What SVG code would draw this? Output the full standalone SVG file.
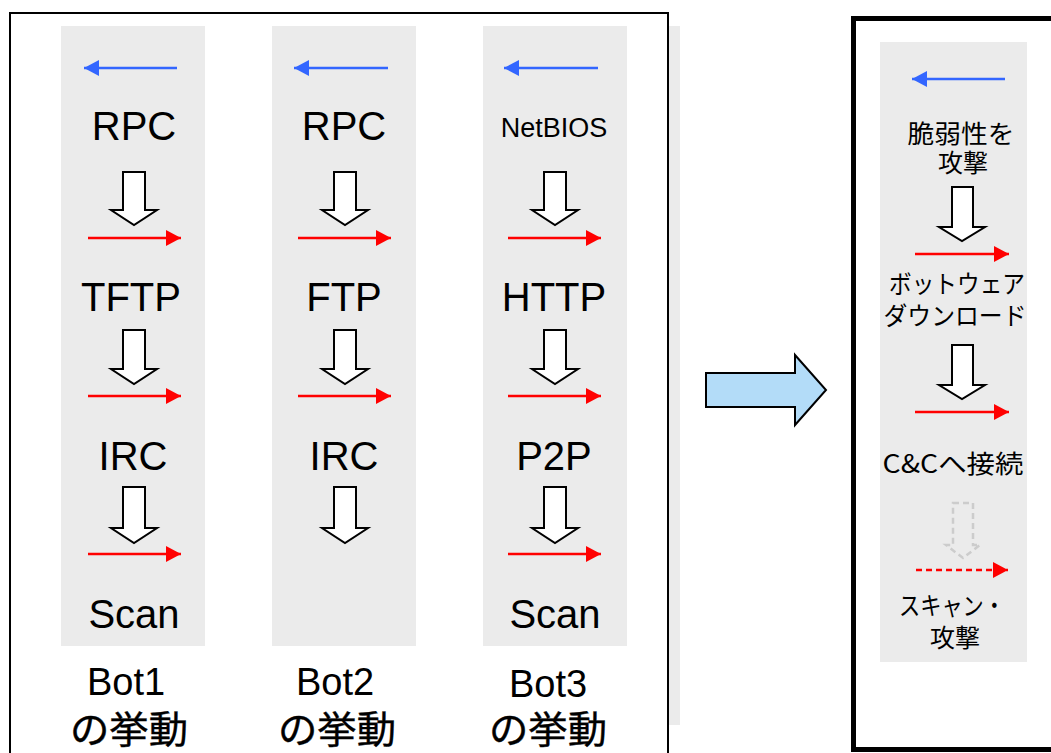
<svg xmlns="http://www.w3.org/2000/svg" width="1051" height="753" viewBox="0 0 1051 753">
<style>
.bg{fill:#ffffff}
.col{fill:#ebebeb}
.box{fill:none;stroke:#000;stroke-width:2}
.lbl{font-family:"Liberation Sans",Arial,sans-serif;font-size:40px;fill:#000;text-anchor:middle}
.jp{font-family:"Noto Sans CJK JP",sans-serif;font-size:38px;fill:#000;stroke:#000;stroke-width:0.4;text-anchor:middle}
.jps{font-family:"Noto Sans CJK JP",sans-serif;font-size:25px;fill:#000;text-anchor:middle}
.blue{stroke:#3366ff;stroke-width:2.5;fill:none}
.red{stroke:#ff0000;stroke-width:2.5;fill:none}
.hollow{fill:#fff;stroke:#000;stroke-width:2;stroke-linejoin:miter}
</style>
<defs>
<marker id="hb" viewBox="0 0 15 16" refX="15" refY="8" markerWidth="15" markerHeight="16" markerUnits="userSpaceOnUse" orient="auto"><path d="M0,0 L15,8 L0,16 z" fill="#3366ff"/></marker>
<marker id="hr" viewBox="0 0 15 16" refX="15" refY="8" markerWidth="15" markerHeight="16" markerUnits="userSpaceOnUse" orient="auto"><path d="M0,0 L15,8 L0,16 z" fill="#ff0000"/></marker>
</defs>
<rect class="bg" x="0" y="0" width="1051" height="753"/>

<g id="left-panel">
<rect class="col" x="668" y="26" width="12" height="699"/>
<rect class="box" x="10" y="13" width="658" height="760"/>
</g>

<g id="bot1">
<rect class="col" x="61" y="26" width="144" height="620"/>
<text class="lbl" x="134" y="140">RPC</text>
<text class="lbl" x="131" y="311">TFTP</text>
<text class="lbl" x="133" y="470">IRC</text>
<text class="lbl" x="134" y="628">Scan</text>
<text class="lbl" x="126" y="695" style="font-size:38px">Bot1</text>
<text class="jp" x="129" y="743" textLength="118" lengthAdjust="spacingAndGlyphs">の挙動</text>
</g>

<g id="bot2">
<rect class="col" x="272" y="26" width="144" height="620"/>
<text class="lbl" x="344" y="140">RPC</text>
<text class="lbl" x="344" y="311">FTP</text>
<text class="lbl" x="344" y="470">IRC</text>
<text class="lbl" x="335" y="695" style="font-size:38px">Bot2</text>
<text class="jp" x="337" y="743" textLength="118" lengthAdjust="spacingAndGlyphs">の挙動</text>
</g>

<g id="bot3">
<rect class="col" x="483" y="26" width="144" height="620"/>
<text class="lbl" x="554" y="137" style="font-size:27px">NetBIOS</text>
<text class="lbl" x="554" y="311">HTTP</text>
<text class="lbl" x="554" y="470">P2P</text>
<text class="lbl" x="555" y="628">Scan</text>
<text class="lbl" x="548" y="697" style="font-size:38px">Bot3</text>
<text class="jp" x="548" y="743" textLength="118" lengthAdjust="spacingAndGlyphs">の挙動</text>
</g>

<g id="transition-arrow">
<polygon points="706,373 795,373 795,355 826,390 795,425 795,407 706,407" fill="#b3dcf8" stroke="#000" stroke-width="2"/>
</g>

<g id="right-panel">
<rect x="853.5" y="18.5" width="300" height="731" fill="none" stroke="#000" stroke-width="5"/>
<rect class="col" x="880" y="42" width="147" height="620"/>
<text class="jps"><tspan x="961" y="143" textLength="107" lengthAdjust="spacingAndGlyphs">脆弱性を</tspan><tspan x="963" y="172">攻撃</tspan></text>
<text class="jps"><tspan x="957" y="293" textLength="136" lengthAdjust="spacingAndGlyphs">ボットウェア</tspan><tspan x="955" y="325" textLength="143" lengthAdjust="spacingAndGlyphs">ダウンロード</tspan></text>
<text class="jps" x="953" y="473" textLength="141" lengthAdjust="spacingAndGlyphs">C&amp;Cへ接続</text>
<text class="jps"><tspan x="952" y="615" textLength="106" lengthAdjust="spacingAndGlyphs">スキャン・</tspan><tspan x="955" y="647">攻撃</tspan></text>
</g>

<g id="connectors">
<line class="blue" x1="177" y1="68" x2="84" y2="68" marker-end="url(#hb)"/>
<line class="blue" x1="388" y1="68" x2="294" y2="68" marker-end="url(#hb)"/>
<line class="blue" x1="598" y1="68" x2="504" y2="68" marker-end="url(#hb)"/>
<line class="blue" x1="1005" y1="79" x2="912" y2="79" marker-end="url(#hb)"/>

<polygon class="hollow" points="123,172 145,172 145,210 157,210 134,225 111,210 123,210"/>
<polygon class="hollow" points="123,330 145,330 145,369 157,369 134,384 111,369 123,369"/>
<polygon class="hollow" points="123,487 145,487 145,528 157,528 134,543 111,528 123,528"/>
<polygon class="hollow" points="334,172 356,172 356,210 368,210 345,225 322,210 334,210"/>
<polygon class="hollow" points="334,330 356,330 356,369 368,369 345,384 322,369 334,369"/>
<polygon class="hollow" points="334,487 356,487 356,528 368,528 345,543 322,528 334,528"/>
<polygon class="hollow" points="544,172 566,172 566,210 578,210 555,225 532,210 544,210"/>
<polygon class="hollow" points="544,330 566,330 566,369 578,369 555,384 532,369 544,369"/>
<polygon class="hollow" points="544,487 566,487 566,528 578,528 555,543 532,528 544,528"/>
<polygon class="hollow" points="952,187 973,187 973,227 985,227 962,241 939,227 952,227"/>
<polygon class="hollow" points="952,345 973,345 973,385 985,385 962,399 939,385 952,385"/>
<polygon points="953,503 973,503 973,545 980,545 963,558 946,545 953,545" fill="none" stroke="#cccccc" stroke-width="2.5" stroke-dasharray="6,4"/>

<line class="red" x1="88" y1="238" x2="181" y2="238" marker-end="url(#hr)"/>
<line class="red" x1="298" y1="238" x2="391" y2="238" marker-end="url(#hr)"/>
<line class="red" x1="508" y1="238" x2="601" y2="238" marker-end="url(#hr)"/>
<line class="red" x1="88" y1="396" x2="181" y2="396" marker-end="url(#hr)"/>
<line class="red" x1="298" y1="396" x2="391" y2="396" marker-end="url(#hr)"/>
<line class="red" x1="508" y1="396" x2="601" y2="396" marker-end="url(#hr)"/>
<line class="red" x1="88" y1="554" x2="181" y2="554" marker-end="url(#hr)"/>
<line class="red" x1="508" y1="554" x2="601" y2="554" marker-end="url(#hr)"/>
<line class="red" x1="915" y1="254" x2="1009" y2="254" marker-end="url(#hr)"/>
<line class="red" x1="915" y1="412" x2="1009" y2="412" marker-end="url(#hr)"/>
<line class="red" x1="916" y1="570" x2="1008" y2="570" stroke-dasharray="6,4" marker-end="url(#hr)"/>
</g>
</svg>
